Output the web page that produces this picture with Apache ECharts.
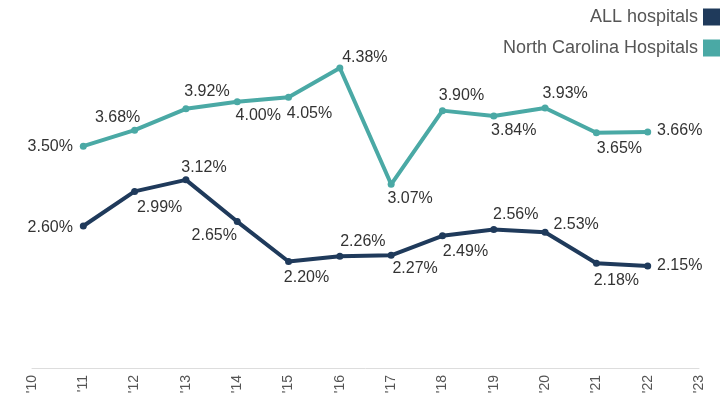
<!DOCTYPE html>
<html>
<head>
<meta charset="utf-8">
<script src="https://cdn.jsdelivr.net/npm/echarts@6/dist/echarts.min.js"></script>
<style>html,body{margin:0;padding:0;background:#fff;}#c{width:727px;height:400px;}</style>
</head>
<body>
<div id="c"></div>
<script>
const categories = ["'10","'11","'12","'13","'14","'15","'16","'17","'18","'19","'20","'21","'22","'23"];
const allHospitals = [null, 2.60, 2.99, 3.12, 2.65, 2.20, 2.26, 2.27, 2.49, 2.56, 2.53, 2.18, 2.15, null];
const ncHospitals = [null, 3.50, 3.68, 3.92, 4.00, 4.05, 4.38, 3.07, 3.90, 3.84, 3.93, 3.65, 3.66, null];
// label offsets (style only)
const allOffsets = [null, [-33,2],[25,16],[18,-12],[-23,14],[18,16],[23,-15],[24,13],[23,16],[22,-15],[31,-8],[20,17],[32,0], null];
const ncOffsets = [null, [-33,0],[-17,-13],[21,-17],[21,14],[21,16],[25,-10],[19,14],[19,-15],[20,15],[20,-14],[23,16],[32,-1], null];

function build(vals, offs){
  return vals.map((v,i)=> v==null ? null : {
    value: v,
    label: {show:true, position:'inside', offset: offs[i], align:'center', verticalAlign:'middle'}
  });
}
const labelStyle = {
  fontFamily: 'Liberation Sans, Arial, sans-serif',
  fontSize: 16, color: '#333',
  formatter: p => p.value.toFixed(2) + '%'
};
const chart = echarts.init(document.getElementById('c'));
chart.setOption({
  animation: false,
  grid: {left: 32, right: 28, top: 13, bottom: 32, containLabel: false},
  legend: {
    orient: 'vertical', right: 7, top: 8, align: 'right', padding: 0,
    itemWidth: 17, itemHeight: 17, itemGap: 13,
    icon: 'rect',
    textStyle: {fontFamily: 'Liberation Sans, Arial, sans-serif', fontSize: 18, color: '#555'},
    data: ['ALL hospitals', 'North Carolina Hospitals']
  },
  xAxis: {
    type: 'category', data: categories, boundaryGap: false,
    axisLine: {lineStyle: {color: '#dddddd', width: 1}},
    axisTick: {show: false},
    axisLabel: {rotate: 90, margin: 7, fontSize: 14, color: '#555', fontFamily: 'Liberation Sans, Arial, sans-serif'}
  },
  yAxis: {type: 'value', min: 1, max: 5, show: false, splitLine: {show: false}},
  series: [
    {
      name: 'ALL hospitals', type: 'line', data: build(allHospitals, allOffsets),
      color: '#1f3a5b', symbol: 'circle', symbolSize: 7,
      lineStyle: {width: 4, color: '#1f3a5b'}, itemStyle: {color: '#1f3a5b'},
      label: Object.assign({show: true}, labelStyle)
    },
    {
      name: 'North Carolina Hospitals', type: 'line', data: build(ncHospitals, ncOffsets),
      color: '#4aa9a5', symbol: 'circle', symbolSize: 7,
      lineStyle: {width: 4, color: '#4aa9a5'}, itemStyle: {color: '#4aa9a5'},
      label: Object.assign({show: true}, labelStyle)
    }
  ]
});
</script>
</body>
</html>
